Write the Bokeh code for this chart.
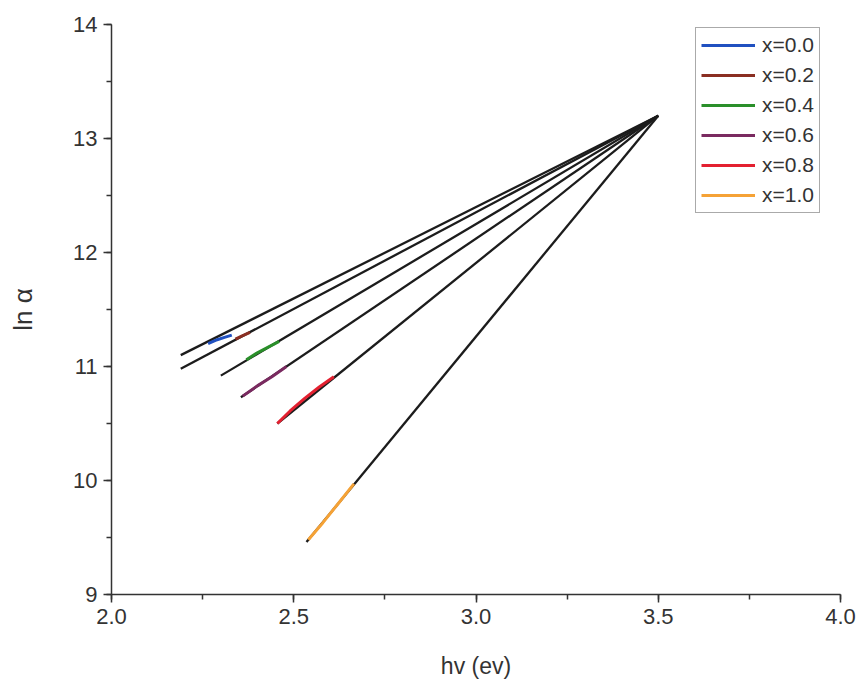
from bokeh.plotting import figure
from bokeh.models import Range1d, SingleIntervalTicker, Legend, LegendItem, NumeralTickFormatter
from bokeh.embed import file_html
from bokeh.resources import INLINE

# Composition labels
labels = ["x=0.0", "x=0.2", "x=0.4", "x=0.6", "x=0.8", "x=1.0"]
colors = ["#2050c0", "#8a2e22", "#2a8f2a", "#7a2a60", "#e32030", "#f5a236"]

# Measured ln(alpha) vs photon energy for each composition
hv_00 = [2.265, 2.29, 2.31, 2.33]
ln_00 = [11.20, 11.235, 11.255, 11.275]
hv_02 = [2.34, 2.36, 2.38]
ln_02 = [11.24, 11.27, 11.30]
hv_04 = [2.37, 2.40, 2.43, 2.46]
ln_04 = [11.06, 11.12, 11.17, 11.22]
hv_06 = [2.36, 2.40, 2.44, 2.48]
ln_06 = [10.74, 10.83, 10.91, 11.00]
hv_08 = [2.455, 2.49, 2.53, 2.57, 2.61]
ln_08 = [10.50, 10.61, 10.72, 10.82, 10.91]
hv_10 = [2.54, 2.58, 2.62, 2.665]
ln_10 = [9.48, 9.63, 9.79, 9.97]

# Linear fits: each starts at its own point and runs to the common focus
fit_hv_start = [2.19, 2.19, 2.30, 2.355, 2.455, 2.535]
fit_ln_start = [11.10, 10.98, 10.92, 10.73, 10.50, 9.46]
focus_hv = 3.5
focus_ln = 13.2

font = "Liberation Sans"
ink = "#333333"

p = figure(width=860, height=686, output_backend="svg", toolbar_location=None,
           x_range=Range1d(2.0, 4.0), y_range=Range1d(9, 14),
           min_border_left=111, min_border_right=20,
           min_border_top=24, min_border_bottom=92)
p.outline_line_color = None
p.grid.visible = False
p.background_fill_color = "white"
p.border_fill_color = "white"

series = [(hv_00, ln_00), (hv_02, ln_02), (hv_04, ln_04),
          (hv_06, ln_06), (hv_08, ln_08), (hv_10, ln_10)]

# Fitted lines in black
for x0, y0 in zip(fit_hv_start, fit_ln_start):
    p.line([x0, focus_hv], [y0, focus_ln], line_color="#1c1c1c", line_width=2.3)

# Data curves on top
items = []
for (hx, ly), lab, col in zip(series, labels, colors):
    r = p.line(hx, ly, line_color=col, line_width=3)
    items.append(LegendItem(label=lab, renderers=[r]))

legend = Legend(items=items, location=(584, 381),
                border_line_color="#555555", border_line_width=1,
                background_fill_color="white",
                label_text_font=font, label_text_font_size="21px",
                label_text_color=ink,
                glyph_width=54, glyph_height=22, label_height=22,
                spacing=6, padding=5, margin=0, label_standoff=7)
p.add_layout(legend)

for ax in (p.xaxis[0], p.yaxis[0]):
    ax.axis_line_color = ink
    ax.axis_line_width = 1.5
    ax.major_tick_line_color = ink
    ax.minor_tick_line_color = ink
    ax.major_tick_line_width = 1.5
    ax.minor_tick_line_width = 1.5
    ax.major_tick_out = 8
    ax.major_tick_in = 0
    ax.minor_tick_out = 5
    ax.minor_tick_in = 0
    ax.major_label_text_font = font
    ax.major_label_text_font_size = "22px"
    ax.major_label_text_color = ink
    ax.axis_label_text_font = font
    ax.axis_label_text_font_style = "normal"
    ax.axis_label_text_color = ink

p.xaxis.ticker = SingleIntervalTicker(interval=0.5, num_minor_ticks=2)
p.yaxis.ticker = SingleIntervalTicker(interval=1, num_minor_ticks=2)
p.xaxis.formatter = NumeralTickFormatter(format="0.0")
p.xaxis.major_label_standoff = 6
p.yaxis.major_label_standoff = 6
p.xaxis.axis_label = "hv (ev)"
p.xaxis.axis_label_text_font_size = "23px"
p.xaxis.axis_label_standoff = 26
p.yaxis.axis_label = "ln \u03b1"
p.yaxis.axis_label_text_font_size = "26px"
p.yaxis.axis_label_standoff = 32

open("out.html", "w").write(file_html(p, INLINE))
